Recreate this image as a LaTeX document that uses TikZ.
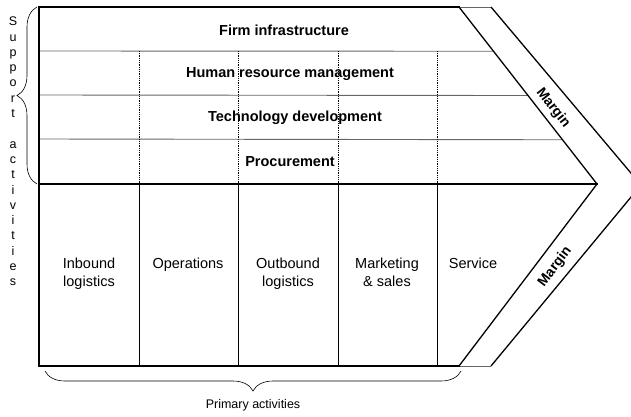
\documentclass[tikz,border=0pt]{standalone}
\usepackage{fontspec}
\setmainfont{Liberation Sans}
\usetikzlibrary{calc, decorations.pathreplacing}

\begin{document}
\begin{tikzpicture}[x=1pt, y=-1pt,
	heavy/.style={line width=1.9pt, line cap=rect},
	rowline/.style={line width=0.9pt, color=gray!80!black},
	slant/.style={line width=1.3pt},
	dotline/.style={line width=0.8pt, densely dotted},
	band/.style={font=\bfseries\fontsize{14.5}{17}\selectfont},
	cell/.style={font=\fontsize{14.5}{18.5}\selectfont, align=center},
	margintext/.style={font=\bfseries\fontsize{14}{16}\selectfont},
	small/.style={font=\fontsize{12.5}{15.3}\selectfont, align=center},
	brace/.style={decorate, decoration={brace, amplitude=20pt}, line width=0.6pt}]
	\useasboundingbox (0,0) rectangle (631,416);
	\clip (0,0) rectangle (631,416);

	\coordinate (tl) at (39,7);
	\coordinate (tr) at (459,7);
	\coordinate (tip) at (597,184);
	\coordinate (ml) at (39,184);
	\coordinate (bl) at (39,366);
	\coordinate (br) at (459,366);
	\coordinate (otr) at (491,7);
	\coordinate (otip) at (641,185);
	\coordinate (obr) at (491,366);

	\foreach \k in {1,2,3}
		\draw[rowline] (39,7+44*\k) -- ($(tr)!\k/4!(tip)$);
	\foreach \x in {139,238,338,437} {
		\draw[dotline] (\x,51) -- (\x,184);
		\draw[line width=0.9pt] (\x,184) -- (\x,366);
	}

	\draw[rowline] (tr) -- (otr);
	\draw[rowline] (br) -- (obr);
	\draw[slant] (tr) -- (tip) -- (br);
	\draw[slant] (otr) -- (otip) -- (obr);
	\draw[heavy] (tr) -- (tl) -- (bl) -- (br);
	\draw[heavy] (ml) -- (tip);

	\node[band] (firm) at (284,30) {Firm infrastructure};
	\node[band] (hrm) at (290,74) {Human resource management};
	\node[band] (tech) at (295,118) {Technology development};
	\node[band] (proc) at (290,162) {Procurement};

	\node[cell, anchor=north] (inbound) at (89,254) {Inbound\\logistics};
	\node[cell, anchor=north] (ops) at (188,254) {Operations};
	\node[cell, anchor=north] (outbound) at (288,254) {Outbound\\logistics};
	\node[cell, anchor=north] (marketing) at (387,254) {Marketing\\\& sales};
	\node[cell, anchor=north] (service) at (473,254) {Service};

	\node[margintext, rotate=-52] (margintop) at (553,108) {Margin};
	\node[margintext, rotate=53] (marginbot) at (555,267) {Margin};

	\draw[brace] (37,184) -- (37,7);
	\node[small] (support) at (13,151.5) {S\\u\\p\\p\\o\\r\\t\\\mbox{}\\a\\c\\t\\i\\v\\i\\t\\i\\e\\s};
	\draw[brace] (461,371) -- (45,371);
	\node[small] (primary) at (253,405) {Primary activities};
\end{tikzpicture}
\end{document}
